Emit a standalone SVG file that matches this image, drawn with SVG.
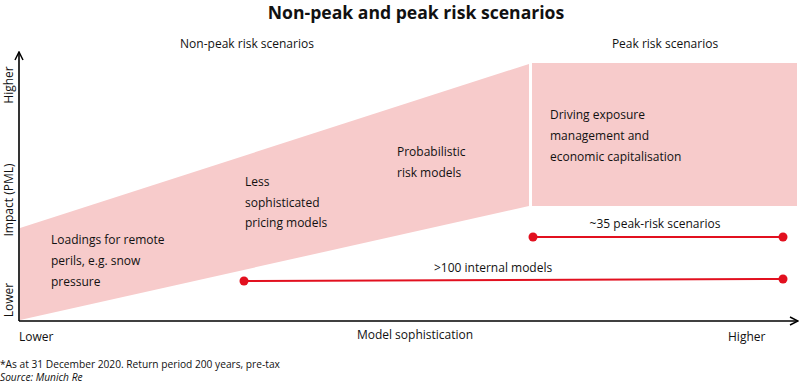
<svg xmlns="http://www.w3.org/2000/svg" width="800" height="383" viewBox="0 0 800 383">
<defs>
<style>
text{font-family:"Open Sans","Noto Sans",sans-serif;fill:#111;font-size:12px}
.title{font-size:17.6px;font-weight:bold;text-anchor:middle}
.hdr{font-size:12px;text-anchor:middle}
.box{font-size:12px}
.ax{font-size:12px}
.foot{font-size:10.2px}
.area{fill:#f7cbcb}
.rl{stroke:#e2101f;stroke-width:2;fill:none}
.dot{fill:#e2101f}
.axis{stroke:#000;stroke-width:1.6;fill:none}
</style>
<marker id="arr" viewBox="0 0 10 10" refX="9" refY="5" markerWidth="10" markerHeight="10" markerUnits="userSpaceOnUse" orient="auto">
<path d="M1,1 L9,5 L1,9" fill="none" stroke="#000" stroke-width="1.5"/>
</marker>
</defs>
<rect width="800" height="383" fill="#fff"/>
<text class="title" x="416" y="19">Non-peak and peak risk scenarios</text>
<text class="hdr" x="247" y="48">Non-peak risk scenarios</text>
<text class="hdr" x="665" y="48">Peak risk scenarios</text>

<g id="nonpeak">
<polygon class="area" points="20,228 529,64 529,206 20,320"/>
<text class="box" x="51" y="244">Loadings for remote</text>
<text class="box" x="51" y="265">perils, e.g. snow</text>
<text class="box" x="51" y="286">pressure</text>
<text class="box" x="245" y="186">Less</text>
<text class="box" x="245" y="207">sophisticated</text>
<text class="box" x="245" y="227">pricing models</text>
<text class="box" x="397" y="156">Probabilistic</text>
<text class="box" x="397" y="177">risk models</text>
</g>
<g id="peak">
<rect class="area" x="532" y="63" width="265" height="143"/>
<text class="box" x="550" y="119">Driving exposure</text>
<text class="box" x="550" y="140">management and</text>
<text class="box" x="550" y="161">economic capitalisation</text>
</g>

<g id="connectors">
<line class="rl" x1="533" y1="237" x2="783" y2="237"/>
<circle class="dot" cx="533" cy="237" r="4.5"/>
<circle class="dot" cx="783" cy="237" r="4.5"/>
<line class="rl" x1="244" y1="281" x2="783" y2="279"/>
<circle class="dot" cx="244" cy="281" r="4.5"/>
<circle class="dot" cx="783" cy="279" r="4.5"/>
<line class="axis" x1="19" y1="321" x2="19" y2="52" marker-end="url(#arr)"/>
<line class="axis" x1="19" y1="321" x2="798" y2="321" marker-end="url(#arr)"/>
</g>
<text class="hdr" x="655" y="228">~35 peak-risk scenarios</text>
<text class="box" x="434" y="272">&gt;100 internal models</text>

<text class="ax" transform="translate(13,85) rotate(-90)" text-anchor="middle">Higher</text>
<text class="ax" transform="translate(13,200) rotate(-90)" text-anchor="middle">Impact (PML)</text>
<text class="ax" transform="translate(13,300) rotate(-90)" text-anchor="middle">Lower</text>
<text class="ax" x="19" y="341">Lower</text>
<text class="ax" x="415" y="339" text-anchor="middle">Model sophistication</text>
<text class="ax" x="728" y="341">Higher</text>
<text class="foot" x="0" y="368">*As at 31 December 2020. Return period 200 years, pre-tax</text>
<text class="foot" x="0" y="381" font-style="italic">Source: Munich Re</text>
</svg>
